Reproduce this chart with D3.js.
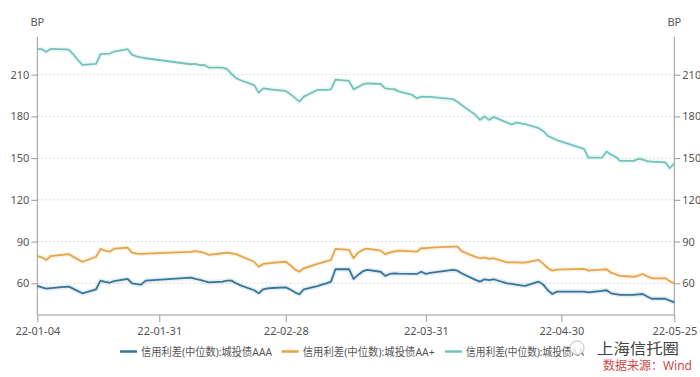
<!DOCTYPE html>
<html>
<head>
<meta charset="utf-8">
<script src="https://cdn.jsdelivr.net/npm/d3@7"></script>
<style>
  body { margin: 0; background: #fff; }
  #chart { width: 700px; height: 377px; }
  text { font-family: "Noto Sans", "Noto Sans CJK SC", sans-serif; }
</style>
</head>
<body>
<div id="chart"></div>
<script>
// trading days shown in the chart
const dates = [
  "2022-01-04","2022-01-05","2022-01-06","2022-01-07","2022-01-10","2022-01-11","2022-01-12","2022-01-13","2022-01-14",
  "2022-01-17","2022-01-18","2022-01-19","2022-01-20","2022-01-21","2022-01-24","2022-01-25","2022-01-26","2022-01-27","2022-01-28",
  "2022-02-07","2022-02-08","2022-02-09","2022-02-10","2022-02-11","2022-02-14","2022-02-15","2022-02-16","2022-02-17","2022-02-18",
  "2022-02-21","2022-02-22","2022-02-23","2022-02-24","2022-02-25","2022-02-28",
  "2022-03-01","2022-03-02","2022-03-03","2022-03-04","2022-03-07","2022-03-08","2022-03-09","2022-03-10","2022-03-11",
  "2022-03-14","2022-03-15","2022-03-16","2022-03-17","2022-03-18","2022-03-21","2022-03-22","2022-03-23","2022-03-24","2022-03-25",
  "2022-03-28","2022-03-29","2022-03-30","2022-03-31",
  "2022-04-01","2022-04-06","2022-04-07","2022-04-08","2022-04-11","2022-04-12","2022-04-13","2022-04-14","2022-04-15",
  "2022-04-18","2022-04-19","2022-04-20","2022-04-21","2022-04-22","2022-04-25","2022-04-26","2022-04-27","2022-04-28","2022-04-29",
  "2022-05-05","2022-05-06","2022-05-09","2022-05-10","2022-05-11","2022-05-12","2022-05-13","2022-05-16","2022-05-17","2022-05-18",
  "2022-05-19","2022-05-20","2022-05-23","2022-05-24","2022-05-25"
];

const seriesNames = ["信用利差(中位数):城投债AAA", "信用利差(中位数):城投债AA+", "信用利差(中位数):城投债AA"];
const seriesColors = ["#36759a", "#e5a447", "#72c4bb"];

const aaa = [
  58.1, 57, 56.1, 56.5, 57.4, 57.6, 56, 54.4, 52.8,
  55.7, 61.9, 61, 60.4, 61.5, 63.1, 60, 59.4, 59, 61.9,
  64, 63.1, 62.5, 61.5, 60.7, 61.2, 61.9, 61.9, 60, 58.5,
  55, 52.8, 55.7, 56.3, 56.6, 57.1,
  55.5, 53.5, 52.1, 55.7, 58, 59, 60, 61.2, 70.1,
  70.1, 63.1, 66, 68.5, 69.6, 68.3, 65.3, 66.7, 67.2, 67,
  66.7, 66.7, 68.3, 66.8,
  67.5, 69.6, 69.1, 67, 62.5, 61.2, 62.9, 62.2, 62.9,
  60, 59.6, 59, 58.5, 58.1, 61.2, 59, 55, 52.3, 54,
  54, 53.5, 54.6, 55, 52.8, 52.2, 51.6, 51.6, 52, 52.3,
  50.5, 48.9, 48.9, 47.5, 46.3
];

const aaPlus = [
  79.6, 78.7, 76.8, 79.6, 80.6, 80.9, 79, 77.2, 75.5,
  79.1, 84.7, 83.5, 82.7, 84.9, 85.6, 82, 81.4, 81.1, 81.3,
  82.6, 83.2, 82.6, 81.8, 80.4, 81.6, 82, 81.5, 81, 79.5,
  75.5, 71.9, 73.9, 74.3, 74.7, 75.5,
  73, 70, 68.3, 70.8, 73.9, 74.8, 76, 76.8, 84.7,
  84, 78, 82, 84, 84.9, 83.5, 80.9, 82, 83, 83.5,
  83, 82.7, 85.2, 85.2,
  85.6, 86.3, 86.3, 83, 79, 78, 78.7, 77.5, 78,
  75.1, 75, 75, 74.8, 74.8, 76.8, 74, 71, 69.1, 69.8,
  70.3, 69.1, 69.8, 70.1, 67.6, 66.5, 65.3, 64.7, 65.5, 66.7,
  65, 63.6, 63.6, 61.5, 60
];

const aa = [
  228.3, 228.3, 226.4, 228.5, 228.2, 228, 224.5, 220.5, 217,
  217.7, 224.7, 225, 225.2, 226.5, 228.3, 224.2, 223.2, 222.4, 221.8,
  217.5, 217.7, 216.8, 217, 215, 215, 214, 210.5, 207.5, 206,
  202.5, 197.1, 200.2, 199.7, 199.3, 198.3,
  196, 193.5, 190.6, 194.2, 199, 199, 199, 199.5, 206.5,
  205.5, 199.5, 201, 203, 203.8, 203.3, 200.2, 199.8, 199.6, 198,
  195.4, 193, 194.2, 194,
  194, 192.4, 190.5, 188, 181, 177.5, 179.9, 177.5, 179.6,
  175.5, 174.2, 175.5, 175, 174.5, 171.5, 169.5, 166, 164.5, 163,
  156.6, 150.4, 150.4, 154.7, 152.5, 151, 148, 148, 149.4, 149,
  147.8, 147.5, 147, 142.7, 146.3
];

const yTicks = [60, 90, 120, 150, 180, 210];
const xTickLabels = ["2022-01-04", "2022-01-31", "2022-02-28", "2022-03-31", "2022-04-30", "2022-05-25"];

const parse = d3.timeParse("%Y-%m-%d");
const fmt = d3.timeFormat("%y-%m-%d");

const svg = d3.select("#chart").append("svg")
  .attr("width", 700)
  .attr("height", 377);

const plot = { left: 37.3, right: 674.3, top: 36.7, bottom: 315 };

const x = d3.scaleTime()
  .domain([parse("2022-01-04"), parse("2022-05-25")])
  .range([plot.left, plot.right]);

const y = d3.scaleLinear()
  .domain([37.2, 237.3])
  .range([plot.bottom, plot.top]);

// grid lines
svg.append("g")
  .selectAll("line")
  .data(yTicks)
  .join("line")
  .attr("x1", plot.left)
  .attr("x2", plot.right)
  .attr("y1", d => y(d))
  .attr("y2", d => y(d))
  .attr("stroke", "#dcdcdc")
  .attr("stroke-width", 1)
  .attr("stroke-dasharray", "2 2");

// left + right axes (same scale on both sides)
const axisL = svg.append("g")
  .attr("transform", `translate(${plot.left},0)`)
  .call(d3.axisLeft(y).tickValues(yTicks).tickSize(6).tickPadding(2));
const axisR = svg.append("g")
  .attr("transform", `translate(${plot.right},0)`)
  .call(d3.axisRight(y).tickValues(yTicks).tickSize(6).tickPadding(2));

// bottom axis
const axisB = svg.append("g")
  .attr("transform", `translate(0,${plot.bottom})`)
  .call(d3.axisBottom(x).tickValues(xTickLabels.map(parse)).tickFormat(fmt).tickSize(7).tickPadding(5));

[axisL, axisR, axisB].forEach(g => {
  g.select(".domain").attr("stroke", "#9a9a9a");
  g.selectAll(".tick line").attr("stroke", "#9a9a9a");
  g.selectAll(".tick text")
    .attr("fill", "#555")
    .attr("font-size", "11px");
});
axisL.select(".domain").attr("d", `M0,${plot.bottom}V${plot.top}`);
axisR.select(".domain").attr("d", `M0,${plot.bottom}V${plot.top}`);
axisB.select(".domain").attr("d", `M${plot.left},0H${plot.right}`);

// BP units
svg.append("text").attr("x", plot.left).attr("y", 26).attr("text-anchor", "middle")
  .attr("font-size", "11px").attr("fill", "#555").text("BP");
svg.append("text").attr("x", plot.right).attr("y", 26).attr("text-anchor", "middle")
  .attr("font-size", "11px").attr("fill", "#555").text("BP");

// lines
const allSeries = [aaa, aaPlus, aa];
const line = d3.line()
  .x((d, i) => x(parse(dates[i])))
  .y(d => y(d));

allSeries.forEach((vals, k) => {
  // soft halo under each line
  svg.append("path")
    .datum(vals)
    .attr("d", line)
    .attr("fill", "none")
    .attr("stroke", seriesColors[k])
    .attr("stroke-opacity", 0.12)
    .attr("stroke-width", 5)
    .attr("stroke-linejoin", "round");
  svg.append("path")
    .datum(vals)
    .attr("d", line)
    .attr("fill", "none")
    .attr("stroke", seriesColors[k])
    .attr("stroke-width", 1.8)
    .attr("stroke-linejoin", "round");
});

// legend
const legendX = [120, 281.7, 445];
const legendW = [131, 132, 118];
const legend = svg.append("g");
seriesNames.forEach((name, k) => {
  legend.append("line")
    .attr("x1", legendX[k]).attr("x2", legendX[k] + 17)
    .attr("y1", 351.5).attr("y2", 351.5)
    .attr("stroke", seriesColors[k])
    .attr("stroke-width", 2.5);
  legend.append("text")
    .attr("x", legendX[k] + 21)
    .attr("y", 355.5)
    .attr("font-size", "11px")
    .attr("fill", "#555")
    .attr("textLength", legendW[k])
    .attr("lengthAdjust", "spacingAndGlyphs")
    .text(name);
});

// watermark and source
svg.append("circle")
  .attr("cx", 577).attr("cy", 348).attr("r", 7)
  .attr("fill", "#fff").attr("fill-opacity", 0.8)
  .attr("stroke", "#bbb").attr("stroke-width", 1);
svg.append("text")
  .attr("x", 597).attr("y", 354)
  .attr("font-size", "15px")
  .attr("fill", "#444")
  .attr("font-family", "Noto Sans CJK SC")
  .attr("textLength", 82)
  .attr("lengthAdjust", "spacingAndGlyphs")
  .text("上海信托圈");
svg.append("text")
  .attr("x", 692).attr("y", 370)
  .attr("text-anchor", "end")
  .attr("font-size", "12px")
  .attr("fill", "#cc4a4a")
  .text("数据来源：Wind");
</script>
</body>
</html>
